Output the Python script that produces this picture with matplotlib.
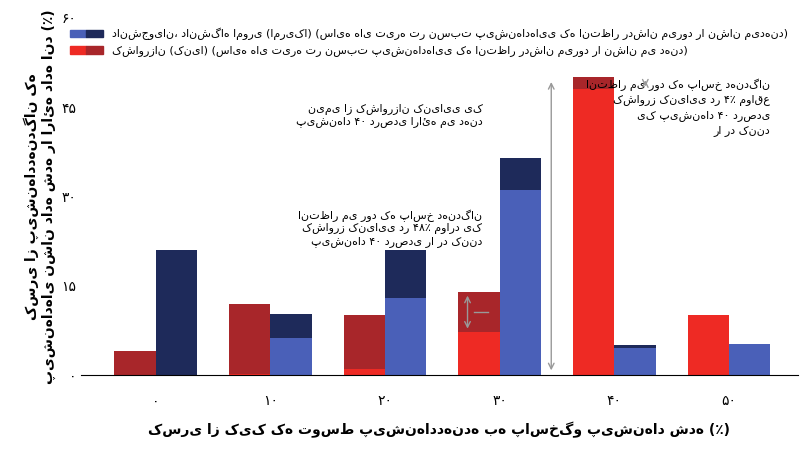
import matplotlib
matplotlib.use("Agg")
import matplotlib.pyplot as plt
import numpy as np
from matplotlib.patches import Patch
from matplotlib.legend_handler import HandlerTuple

plt.rcParams["font.family"] = "DejaVu Sans"

categories = ["۰", "۱۰", "۲۰", "۳۰", "۴۰", "۵۰"]
kenya_total = [4, 12, 10, 14, 50, 10]
kenya_light = [0, 0.2, 1, 7.2, 48, 10]
us_total = [21, 10.3, 21, 36.5, 5, 5.2]
us_light = [0, 6.2, 13, 31, 4.6, 5.2]
yticks = [0, 15, 30, 45, 60]
ytick_labels = ["۰", "۱۵", "۳۰", "۴۵", "۶۰"]

dark_red, light_red = "#a8262a", "#ee2a24"
dark_blue, light_blue = "#1e2a5a", "#4a60b8"

fig = plt.figure(figsize=(8.1, 4.49), dpi=100)
ax = fig.add_axes([0.1, 0.165, 0.885, 0.795])
x = np.arange(len(categories))
w = 0.36
ax.bar(x - w/2, kenya_total, w, color=dark_red)
ax.bar(x - w/2, kenya_light, w, color=light_red)
ax.bar(x + w/2, us_total, w, color=dark_blue)
ax.bar(x + w/2, us_light, w, color=light_blue)

ax.set_ylim(0, 60)
ax.set_xlim(-0.65, 5.6)
ax.set_yticks(yticks)
ax.set_yticklabels(ytick_labels, fontsize=10)
ax.set_xticks(x)
ax.set_xticklabels(categories, fontsize=10)
ax.tick_params(axis="x", length=0, pad=14)
ax.tick_params(axis="y", length=0)
for s in ["top", "right", "left"]:
    ax.spines[s].set_visible(False)
ax.set_xlabel("کسری از کیک که توسط پیشنهاددهنده به پاسخگو پیشنهاد شده (٪)", fontsize=10, labelpad=10, fontweight="bold")
ax.set_ylabel("کسری از پیشنهاددهندگان که\nپیشنهادهای نشان داده شده را ارائه داده اند (٪)", fontsize=10, fontweight="bold")

handles = [(Patch(color=light_blue), Patch(color=dark_blue)), (Patch(color=light_red), Patch(color=dark_red))]
ax.legend(handles, ["دانشجویان، دانشگاه اموری (امریکا) (سایه های تیره تر نسبت پیشنهادهایی که انتظار ردشان میرود را نشان میدهند)",
                    "کشاورزان (کنیا) (سایه های تیره تر نسبت پیشنهادهایی که انتظار ردشان میرود را نشان می دهند)"],
          handler_map={tuple: HandlerTuple(ndivide=None, pad=0)}, loc="upper right",
          bbox_to_anchor=(1.0, 1.0), frameon=False, fontsize=8, handlelength=3)

ax.text(2.85, 42, "نیمی از کشاورزان کنیایی یک\nپیشنهاد ۴۰ درصدی ارائه می دهند", ha="right", fontsize=8)
ax.text(2.85, 22, "انتظار می رود که پاسخ دهندگان\nکشاورز کنیایی در ۴۸٪ موارد یک\nپیشنهاد ۴۰ درصدی را رد کنند", ha="right", fontsize=8)
ax.text(5.36, 49.8, "انتظار می رود که پاسخ دهندگان\nکشاورز کنیایی در ۴٪ مواقع\nیک پیشنهاد ۴۰ درصدی\nرا رد کنند", ha="right", va="top", fontsize=8, linespacing=1.5)
ax.annotate("", xy=(3.45, 0.3), xytext=(3.45, 49.7), arrowprops=dict(arrowstyle="<->", color="#999999"))
ax.annotate("", xy=(2.72, 7.3), xytext=(2.72, 13.8), arrowprops=dict(arrowstyle="<->", color="#999999"))
ax.annotate("", xy=(4.27, 48), xytext=(4.27, 50), arrowprops=dict(arrowstyle="<->", color="#999999"))
ax.plot([2.78, 2.9], [10.5, 10.5], color="#999999", lw=1)
fig.savefig("out.png", dpi=100)
